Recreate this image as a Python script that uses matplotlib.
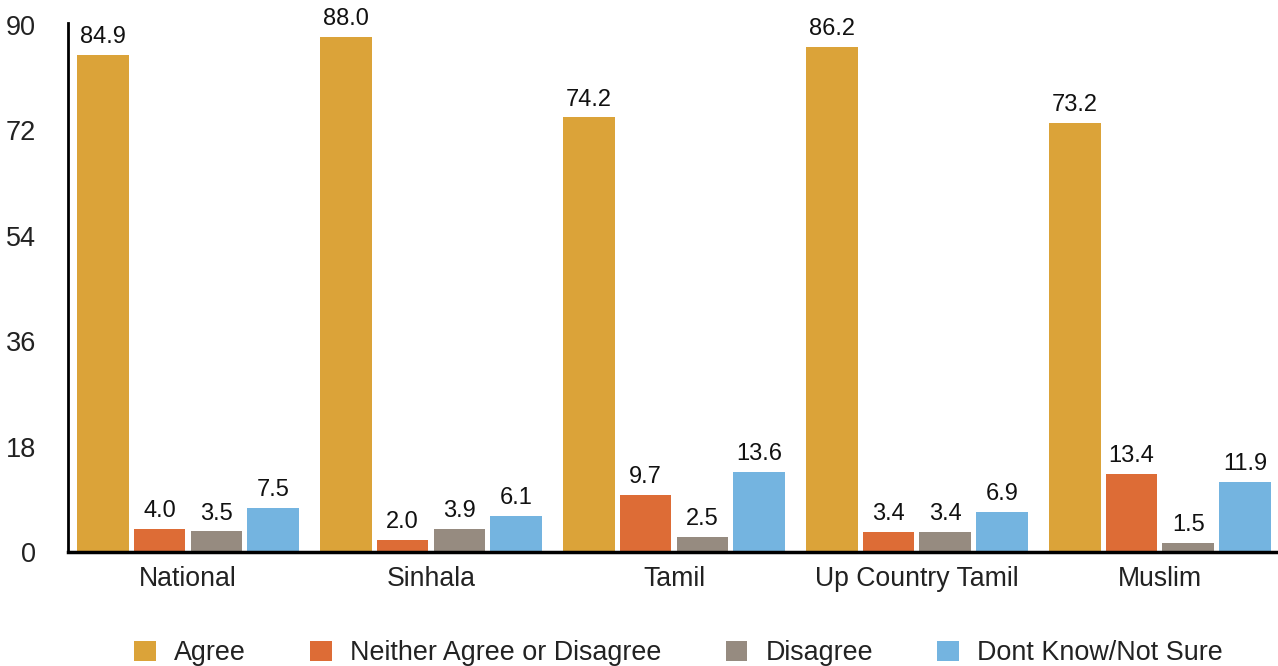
import matplotlib
matplotlib.use("Agg")
import matplotlib.pyplot as plt
import numpy as np

categories = ["National", "Sinhala", "Tamil", "Up Country Tamil", "Muslim"]
series_names = ["Agree", "Neither Agree or Disagree", "Disagree", "Dont Know/Not Sure"]
agree = [84.9, 88.0, 74.2, 86.2, 73.2]
neither = [4.0, 2.0, 9.7, 3.4, 13.4]
disagree = [3.5, 3.9, 2.5, 3.4, 1.5]
dont_know = [7.5, 6.1, 13.6, 6.9, 11.9]
yticks = [0, 18, 36, 54, 72, 90]
colors = ["#DBA339", "#DD6C36", "#968B80", "#74B4E0"]

plt.rcParams['font.family'] = ['Liberation Sans', 'DejaVu Sans']

fig = plt.figure(figsize=(12.78, 6.66), dpi=100)
ax = fig.add_axes([0.0532, 0.1712, 0.9468, 0.7913])

x = np.arange(len(categories))
step = 0.234
width = 0.213
data = [agree, neither, disagree, dont_know]
handles = []
for i, (vals, name, c) in enumerate(zip(data, series_names, colors)):
    pos = x + (i - 1.5) * step
    b = ax.bar(pos, vals, width=width, color=c, label=name)
    handles.append(b)
    for px, v in zip(pos, vals):
        ax.annotate(f"{v:.1f}", (px, v), xytext=(0, 5), textcoords="offset points",
                    ha="center", va="bottom", fontsize=17, color="#111111")

ax.set_xlim(-0.494, 4.486)
ax.set_ylim(0, 90)
ax.set_yticks(yticks)
ax.set_yticklabels([str(t) for t in yticks], fontsize=19.5, color="#222222")
ax.set_xticks(x)
ax.set_xticklabels(categories, fontsize=19.2, color="#222222")
ax.tick_params(axis="both", length=0)
ax.tick_params(axis="y", pad=23)
ax.tick_params(axis="x", pad=10)
for s in ["top", "right"]:
    ax.spines[s].set_visible(False)
ax.spines["left"].set_linewidth(2)
ax.spines["bottom"].set_linewidth(2.5)
ax.spines["left"].set_bounds(0, 90.3)

fig.legend(handles=handles, labels=series_names, loc="center", bbox_to_anchor=(0.531, 0.019),
           ncol=4, frameon=False, fontsize=19.4, handlelength=0.81, handleheight=0.81,
           handletextpad=0.67, columnspacing=2.38, borderaxespad=0, labelcolor="#222222")

fig.savefig("out.png", dpi=100)
